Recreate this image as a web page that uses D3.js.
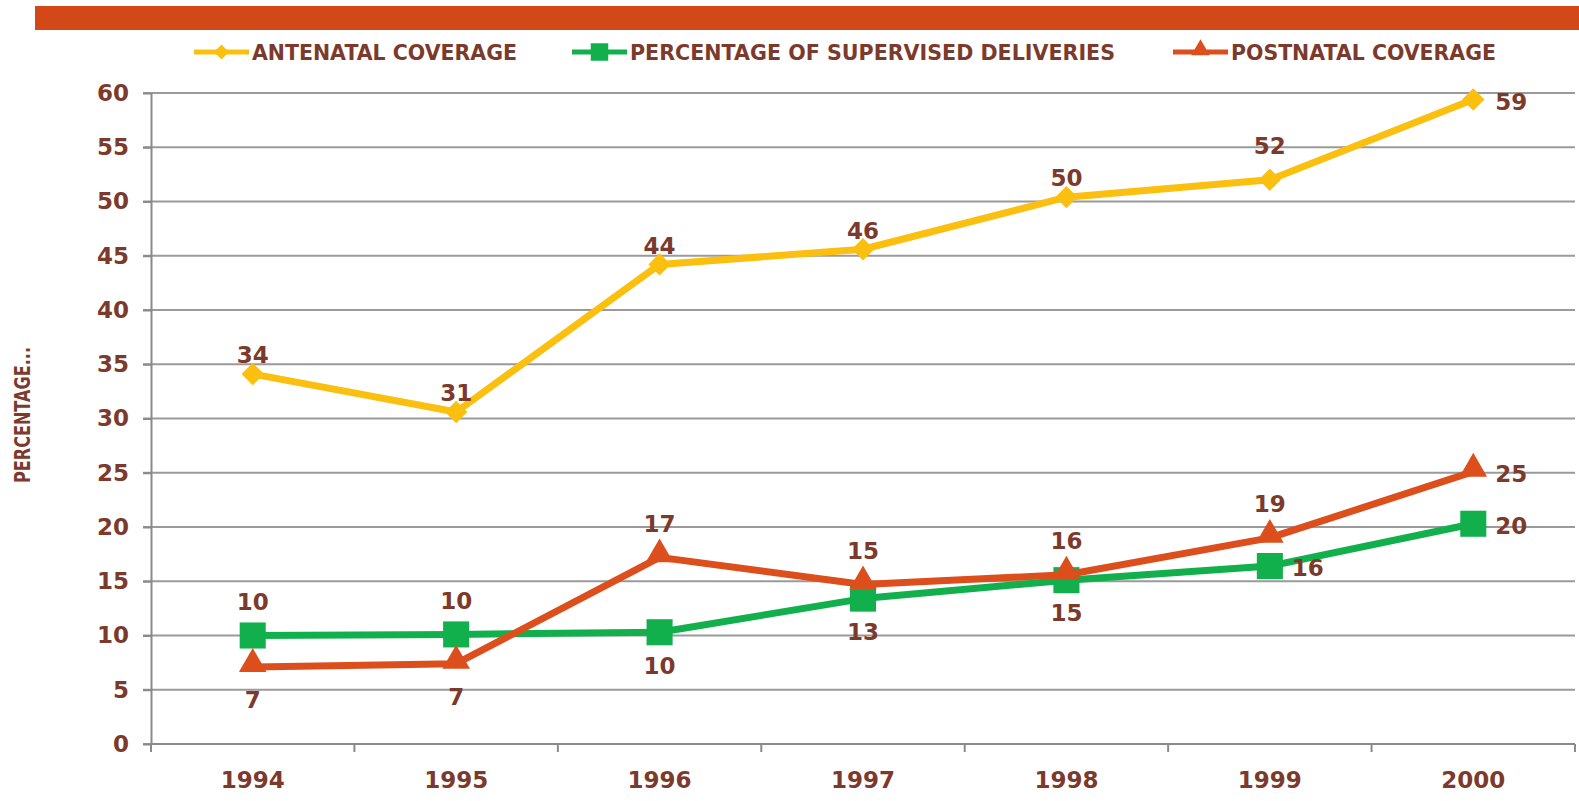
<!DOCTYPE html>
<html>
<head>
<meta charset="utf-8">
<script src="https://cdn.jsdelivr.net/npm/d3@7"></script>
<style>
  body { margin: 0; background: #fff; }
  #chart text { font-family: "DejaVu Sans", "Liberation Sans", sans-serif; font-weight: bold; fill: #7b3a2c; }
  .grid line { stroke: #9a9a9a; stroke-width: 2; }
  .axis path, .axis line { stroke: #8a8a8a; stroke-width: 2; }
</style>
</head>
<body>
<div id="chart"></div>
<script>
// data
var years = ["1994", "1995", "1996", "1997", "1998", "1999", "2000"];
var antenatal = [34.1, 30.6, 44.2, 45.6, 50.4, 52.0, 59.4];
var supervised = [10.0, 10.1, 10.3, 13.4, 15.1, 16.4, 20.3];
var postnatal = [7.1, 7.4, 17.2, 14.7, 15.6, 19.0, 25.1];
var antenatalLabels = [34, 31, 44, 46, 50, 52, 59];
var supervisedLabels = [10, 10, 10, 13, 15, 16, 20];
var postnatalLabels = [7, 7, 17, 15, 16, 19, 25];
var yTicks = [0, 5, 10, 15, 20, 25, 30, 35, 40, 45, 50, 55, 60];
var seriesNames = ["ANTENATAL COVERAGE", "PERCENTAGE OF SUPERVISED DELIVERIES", "POSTNATAL COVERAGE"];

// where each data label sits: t = just above, T = above, b = below, r = right
var antenatalPlace = ["t", "t", "t", "t", "t", "T", "r"];
var supervisedPlace = ["T", "T", "b", "b", "b", "r", "r"];
var postnatalPlace = ["b", "b", "T", "T", "T", "T", "r"];

var W = 1579, H = 801;
var margin = {top: 93, right: 4, bottom: 57, left: 151};
var width = W - margin.left - margin.right;
var height = H - margin.top - margin.bottom;

var svg = d3.select("#chart").append("svg")
  .attr("width", W)
  .attr("height", H);

// orange banner on top
svg.append("rect")
  .attr("x", 35).attr("y", 6)
  .attr("width", W - 35).attr("height", 24)
  .attr("fill", "#d24817");

var g = svg.append("g")
  .attr("transform", "translate(" + margin.left + "," + margin.top + ")");

var x = d3.scaleBand().domain(years).range([0, width]).padding(0);
var y = d3.scaleLinear().domain([0, 60]).range([height, 0]);

// gridlines
g.append("g")
  .attr("class", "grid")
  .selectAll("line")
  .data(yTicks)
  .enter().append("line")
  .attr("x1", -8).attr("x2", width)
  .attr("y1", function(d) { return y(d); })
  .attr("y2", function(d) { return y(d); });

// y axis
var yAxis = g.append("g")
  .attr("class", "axis")
  .call(d3.axisLeft(y).tickValues(yTicks).tickSize(8).tickSizeOuter(0).tickPadding(14));
yAxis.selectAll("text").style("font-size", "23px");

// x axis, ticks between categories
var xAxis = g.append("g")
  .attr("class", "axis")
  .attr("transform", "translate(0," + height + ")")
  .call(d3.axisBottom(x).tickSize(0).tickPadding(28));
xAxis.select(".domain").remove();
xAxis.selectAll("text").style("font-size", "23px");
g.append("line")
  .attr("x1", 0).attr("x2", width)
  .attr("y1", height).attr("y2", height)
  .attr("stroke", "#8a8a8a").attr("stroke-width", 2);
g.append("g")
  .selectAll("line")
  .data(years.concat(["end"]))
  .enter().append("line")
  .attr("x1", function(d, i) { return i < years.length ? x(d) : width; })
  .attr("x2", function(d, i) { return i < years.length ? x(d) : width; })
  .attr("y1", height).attr("y2", height + 8)
  .attr("stroke", "#8a8a8a").attr("stroke-width", 2);

// y axis title
svg.append("text")
  .attr("transform", "translate(30,415) rotate(-90)")
  .attr("text-anchor", "middle")
  .attr("textLength", 136)
  .attr("lengthAdjust", "spacingAndGlyphs")
  .style("font-size", "21px")
  .text("PERCENTAGE...");

// diamond = square turned 45 degrees
var series = [
  {name: seriesNames[0], values: antenatal, labels: antenatalLabels, place: antenatalPlace, color: "#fbbf0f", shape: d3.symbolSquare, size: 250, rot: 45},
  {name: seriesNames[1], values: supervised, labels: supervisedLabels, place: supervisedPlace, color: "#12b04c", shape: d3.symbolSquare, size: 680, rot: 0},
  {name: seriesNames[2], values: postnatal, labels: postnatalLabels, place: postnatalPlace, color: "#dc4f1c", shape: d3.symbolTriangle, size: 330, rot: 0}
];

var cx = function(i) { return x(years[i]) + x.bandwidth() / 2; };
var line = d3.line()
  .x(function(d, i) { return cx(i); })
  .y(function(d) { return y(d); });

var offsets = {t: [0, -19], T: [0, -34], b: [0, 33], r: [38, 2]};

series.forEach(function(s) {
  g.append("path")
    .datum(s.values)
    .attr("fill", "none")
    .attr("stroke", s.color)
    .attr("stroke-width", 7)
    .attr("stroke-linejoin", "round")
    .attr("d", line);
  g.selectAll(null)
    .data(s.values)
    .enter().append("path")
    .attr("d", d3.symbol().type(s.shape).size(s.size))
    .attr("fill", s.color)
    .attr("transform", function(d, i) {
      var dy = s.shape === d3.symbolTriangle ? -3 : 0;
      return "translate(" + cx(i) + "," + (y(d) + dy) + ") rotate(" + s.rot + ")";
    });
});

// data labels
series.forEach(function(s) {
  g.selectAll(null)
    .data(s.values)
    .enter().append("text")
    .attr("x", function(d, i) { return cx(i) + offsets[s.place[i]][0]; })
    .attr("y", function(d, i) { return y(d) + offsets[s.place[i]][1]; })
    .attr("dy", "0.36em")
    .attr("text-anchor", "middle")
    .style("font-size", "23px")
    .text(function(d, i) { return s.labels[i]; });
});

// legend
var legendX = [194, 572, 1173];
var legendTextW = [265, 485, 265];
var legend = svg.append("g");
series.forEach(function(s, i) {
  var lg = legend.append("g").attr("transform", "translate(" + legendX[i] + ",52)");
  lg.append("line")
    .attr("x1", 0).attr("x2", 55)
    .attr("stroke", s.color).attr("stroke-width", 5);
  lg.append("path")
    .attr("d", d3.symbol().type(s.shape).size(s.size * 0.45))
    .attr("fill", s.color)
    .attr("transform", "translate(27.5," + (s.shape === d3.symbolTriangle ? -2 : 0) + ") rotate(" + s.rot + ")");
  lg.append("text")
    .attr("x", 58)
    .attr("dy", "0.36em")
    .attr("textLength", legendTextW[i])
    .attr("lengthAdjust", "spacingAndGlyphs")
    .style("font-size", "22px")
    .text(s.name);
});
</script>
</body>
</html>
